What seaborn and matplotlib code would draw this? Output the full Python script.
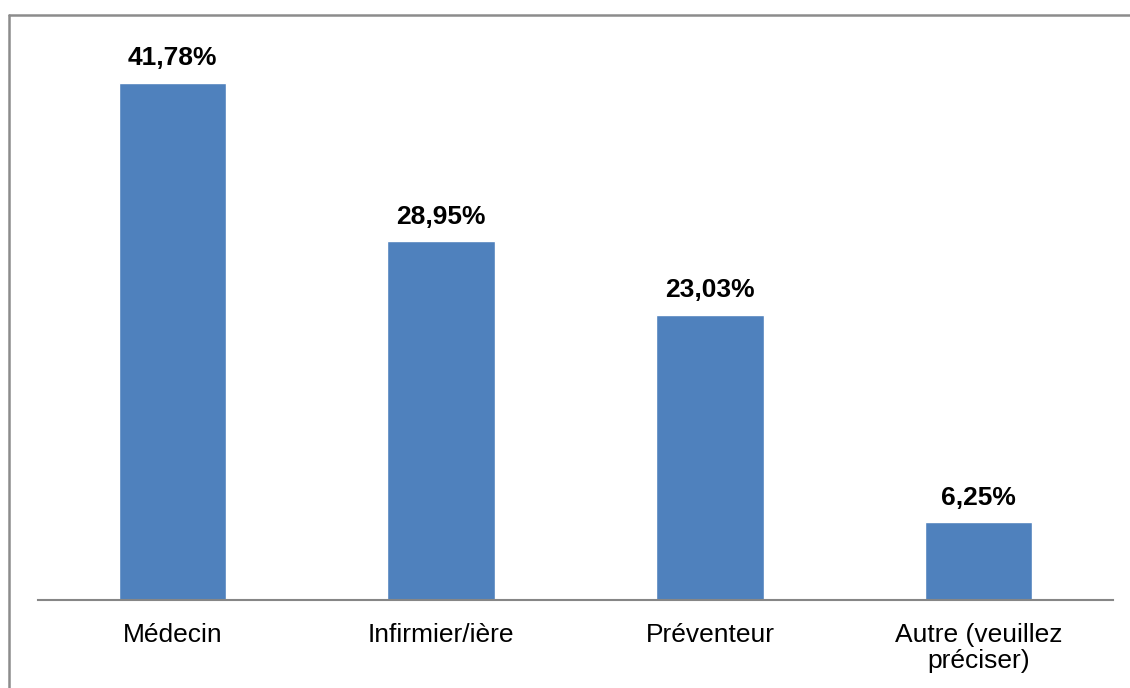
import matplotlib
matplotlib.use("Agg")
import matplotlib.pyplot as plt
import seaborn as sns
from matplotlib.lines import Line2D

# Data
categories = ["Médecin", "Infirmier/ière", "Préventeur", "Autre (veuillez\npréciser)"]
values = [41.78, 28.95, 23.03, 6.25]
value_labels = ["41,78%", "28,95%", "23,03%", "6,25%"]

sns.set_theme(style="white")
plt.rcParams['font.family'] = ['Liberation Sans', 'DejaVu Sans']

fig = plt.figure(figsize=(11.3, 6.88), dpi=100)
ax = fig.add_axes([38 / 1130, 1 - 599.5 / 688, 1075 / 1130, 556.5 / 688])

sns.barplot(x=categories, y=values, color="#4F81BD", saturation=1, width=0.4, ax=ax)

ax.set_ylim(0, 45)
ax.set_yticks([])
ax.set_xlabel("")
ax.set_ylabel("")
for side in ["top", "right", "left"]:
    ax.spines[side].set_visible(False)
ax.spines["bottom"].set_color("#868686")
ax.spines["bottom"].set_linewidth(1.5)
ax.tick_params(axis="x", length=0, pad=17, labelsize=19, labelcolor="black")
for t in ax.get_xticklabels():
    t.set_linespacing(1.1)

for i, (v, lab) in enumerate(zip(values, value_labels)):
    ax.annotate(lab, (i, v), xytext=(0, 9), textcoords="offset points",
                ha="center", va="bottom", fontsize=19, fontweight="bold", color="black")

# outer chart frame (only left and top edges visible)
fig.add_artist(Line2D([8.5 / 1130, 8.5 / 1130], [0, 1 - 14.5 / 688],
                      transform=fig.transFigure, color="#8c8c8c", lw=1.8))
fig.add_artist(Line2D([8.5 / 1130, 1], [1 - 14.5 / 688, 1 - 14.5 / 688],
                      transform=fig.transFigure, color="#8c8c8c", lw=1.8))

fig.savefig("out.png", dpi=100)
